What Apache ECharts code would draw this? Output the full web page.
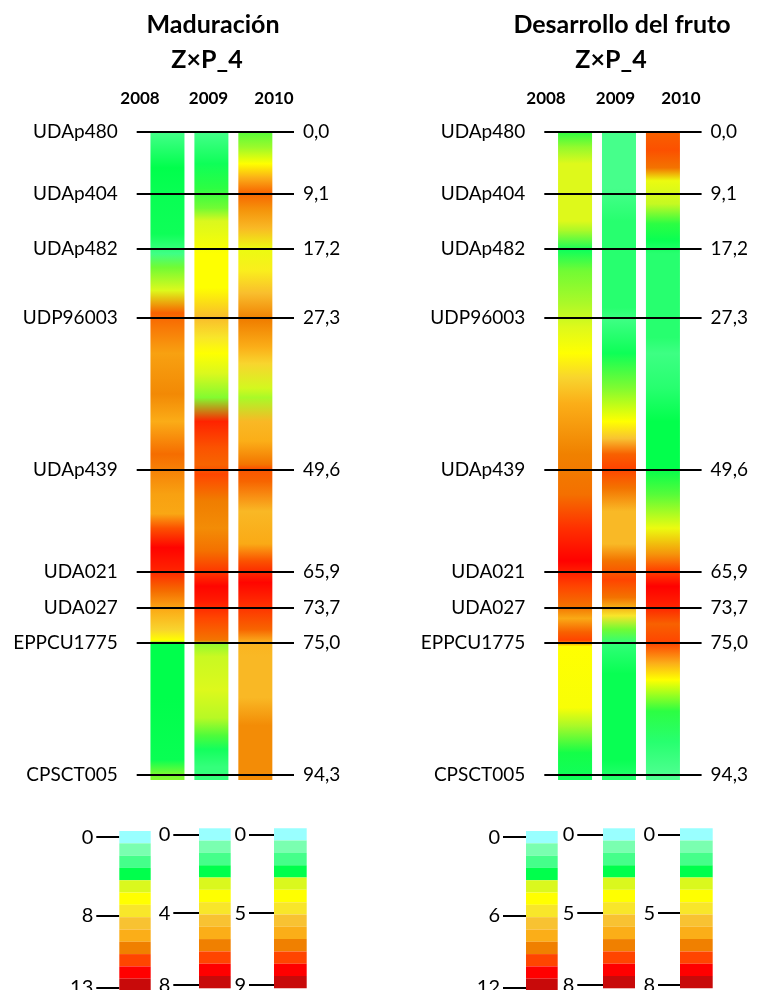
<!DOCTYPE html>
<html>
<head>
<meta charset="utf-8">
<script src="https://cdn.jsdelivr.net/npm/echarts@6/dist/echarts.min.js"></script>
<style>
  html, body { margin: 0; padding: 0; background: #fff; }
  #chart { width: 757px; height: 990px; }
</style>
</head>
<body>
<div id="chart"></div>
<script>
// ---- Data ------------------------------------------------------------------
const years = ['2008', '2009', '2010'];
const traitTitles = ['Maduración', 'Desarrollo del fruto'];
const linkageGroup = 'Z×P_4';

const markerNames = ['UDAp480', 'UDAp404', 'UDAp482', 'UDP96003', 'UDAp439',
                     'UDA021', 'UDA027', 'EPPCU1775', 'CPSCT005'];
const markerCM = [0.0, 9.1, 17.2, 27.3, 49.6, 65.9, 73.7, 75.0, 94.3];
const mapEnd = 95.1;

// LOD colour classes (light = low LOD, dark red = high LOD)
const palette = ['#99FFFF', '#7AFFB0', '#45FF8A', '#00FF4C', '#DAF81E', '#FFFF00', '#F8E62A',
                 '#F8C232', '#FBAE18', '#F08000', '#FF4500', '#FF0000', '#C80A0A'];

// Scale labels per year: [0, middle, max] LOD
const madScale = [[0, 8, 13], [0, 4, 8], [0, 5, 9]];
const desScale = [[0, 6, 12], [0, 5, 8], [0, 5, 8]];

// LOD profiles along the linkage group: [cM, LOD]
const madLOD2008 = [[0, 2.5], [5.3, 3.75], [9.1, 3.6], [15.0, 3.5], [17.9, 2.6], [19.9, 4.4], [23.3, 5.1],
  [26.6, 10.65], [32.5, 9.6], [38.5, 10.05], [42.5, 9.4], [47.3, 10.5], [53.5, 9.6], [56.6, 9.5],
  [58.9, 10.9], [62.0, 11.9], [65.6, 11.5], [70.1, 10.5], [73.8, 9.4], [74.5, 8.1], [74.9, 6.25],
  [75.2, 3.75], [83.0, 3.75], [92.1, 3.6], [94.1, 4.4], [95.1, 4.5]];
const madLOD2009 = [[0, 1.25], [4.7, 1.75], [8.3, 2.0], [11.2, 2.2], [13.1, 2.5], [17.9, 3.1], [22.9, 3.1],
  [27.2, 4.6], [30.2, 3.75], [32.5, 3.1], [35.5, 2.5], [39.0, 2.25], [42.5, 6.8], [46.4, 6.3],
  [48.8, 6.1], [50.3, 6.45], [54.6, 5.8], [58.9, 5.6], [62.5, 5.95], [66.2, 6.65], [69.0, 7.1],
  [72.1, 6.9], [74.1, 6.45], [74.9, 5.9], [75.2, 2.3], [77.0, 2.45], [81.9, 2.55], [86.0, 2.4],
  [88.6, 2.1], [90.6, 1.7], [93.2, 1.4], [95.1, 1.4]];
const madLOD2010 = [[0, 2.65], [2.3, 2.9], [4.7, 3.9], [6.8, 6.1], [9.0, 7.1], [11.6, 6.45], [14.1, 5.75],
  [17.2, 3.5], [20.4, 4.45], [23.7, 5.55], [27.6, 6.8], [31.6, 6.1], [34.0, 5.05], [37.6, 3.1],
  [39.0, 2.95], [42.5, 5.75], [45.4, 6.1], [48.8, 6.9], [49.4, 7.3], [51.4, 7.1], [56.2, 5.75],
  [61.4, 6.15], [64.1, 7.3], [68.2, 8.1], [73.5, 7.65], [74.5, 7.1], [75.0, 5.9], [77.0, 5.75],
  [83.0, 5.75], [87.1, 6.6], [95.1, 6.6]];

const desLOD2008 = [[0, 3.0], [2.3, 3.45], [4.7, 3.85], [13.1, 3.85], [14.5, 3.55], [17.4, 2.6], [20.4, 3.3],
  [25.2, 3.55], [28.7, 3.85], [32.5, 4.7], [36.1, 6.1], [39.9, 7.65], [47.3, 8.65], [53.5, 8.95],
  [58.9, 10.0], [64.1, 10.7], [69.0, 9.7], [73.5, 8.9], [74.1, 7.75], [74.6, 9.2], [74.9, 9.7],
  [75.5, 4.7], [84.5, 4.5], [87.1, 3.55], [91.1, 2.9], [94.7, 2.6], [95.1, 2.6]];
const desLOD2009 = [[0, 1.55], [8.3, 1.55], [13.1, 1.9], [25.8, 1.9], [27.6, 1.65], [32.5, 2.2], [37.6, 2.8],
  [42.5, 3.9], [45.0, 5.3], [47.3, 6.6], [49.4, 6.85], [52.5, 6.45], [56.2, 5.55], [61.4, 5.55],
  [64.1, 6.45], [67.6, 6.85], [71.5, 6.45], [74.0, 4.7], [74.5, 2.75], [75.0, 1.8], [79.5, 2.25],
  [92.1, 2.25], [94.7, 1.95], [95.1, 1.95]];
const desLOD2010 = [[0, 6.6], [2.7, 6.75], [5.3, 6.45], [7.2, 3.5], [10.6, 3.05], [13.5, 2.5], [16.0, 2.25],
  [17.9, 1.9], [30.2, 1.9], [32.5, 1.65], [37.6, 1.9], [42.5, 2.35], [49.4, 2.35], [53.5, 2.65],
  [58.9, 3.5], [63.0, 6.1], [65.6, 6.85], [69.0, 7.35], [73.5, 7.1], [74.3, 6.6], [75.0, 6.85],
  [78.0, 5.8], [80.4, 3.9], [85.0, 2.5], [89.5, 1.9], [94.7, 1.4], [95.1, 1.4]];

// ---- Map drawing scale ------------------------------------------------------
// Markers closer than MIN_GAP are pushed apart (from the bottom up) so that their
// labels never overlap; positions in between are mapped piecewise-linearly.
const MIN_GAP = 5.2;
const drawnPos = (function () {
  const out = markerCM.slice();
  for (let i = out.length - 2; i >= 0; i--) {
    out[i] = Math.min(out[i], out[i + 1] - MIN_GAP);
  }
  return out;
})();
function mapPos(cm) {
  const n = markerCM.length;
  if (cm <= markerCM[0]) return drawnPos[0] + (cm - markerCM[0]);
  for (let i = 1; i < n; i++) {
    if (cm <= markerCM[i]) {
      const t = (cm - markerCM[i - 1]) / (markerCM[i] - markerCM[i - 1]);
      return drawnPos[i - 1] + t * (drawnPos[i] - drawnPos[i - 1]);
    }
  }
  return drawnPos[n - 1] + (cm - markerCM[n - 1]);
}

// ---- Colour scale -----------------------------------------------------------
// Position (in colour-class units) of the 0 / middle / max labels of each scale.
const SCALE_TICK_POS = [0.5, 6.9, 12.75];
function hexToRgb(h) {
  return [parseInt(h.slice(1, 3), 16), parseInt(h.slice(3, 5), 16), parseInt(h.slice(5, 7), 16)];
}
const paletteRgb = palette.map(hexToRgb);
function lodToClassPos(lod, scale) {
  const [lo, mid, hi] = scale;
  if (lod <= mid) return SCALE_TICK_POS[0] + (SCALE_TICK_POS[1] - SCALE_TICK_POS[0]) * (lod - lo) / (mid - lo);
  return SCALE_TICK_POS[1] + (SCALE_TICK_POS[2] - SCALE_TICK_POS[1]) * (lod - mid) / (hi - mid);
}
function lodColor(lod, scale) {
  let t = lodToClassPos(lod, scale) - 0.5;
  t = Math.max(0, Math.min(palette.length - 1, t));
  const k = Math.min(palette.length - 2, Math.floor(t));
  const f = t - k;
  const a = paletteRgb[k], b = paletteRgb[k + 1];
  const c = a.map((v, j) => Math.round(v + (b[j] - v) * f));
  return 'rgb(' + c.join(',') + ')';
}
function fmtCM(v) { return v.toFixed(1).replace('.', ','); }

// ---- Layout -----------------------------------------------------------------
const FONT = 'Lato, "Open Sans", sans-serif';
const LABEL_SIZE = 19;
const MAP_TOP = 131.7, MAP_H = 648.3, MAP_W = 157.3;
const MAP_LEFT = [136.7, 544.3];
const X_MIN = -0.7, X_MAX = 2.88, BAR_HALF = 0.387;

const panels = [
  { title: traitTitles[0], profiles: [madLOD2008, madLOD2009, madLOD2010], scales: madScale,
    titleX: 213, subX: 207, yearX: [140, 208.5, 274] },
  { title: traitTitles[1], profiles: [desLOD2008, desLOD2009, desLOD2010], scales: desScale,
    titleX: 622, subX: 611, yearX: [546, 615.5, 681] }
];

// colour-scale boxes: left edge, top, width, tick length
const scaleBoxes = [
  { left: 119.3, top: 831, w: 31.4, tick: 23 },
  { left: 199, top: 828.3, w: 31.7, tick: 25.7 },
  { left: 274, top: 828.3, w: 32.7, tick: 25 },
  { left: 526, top: 831, w: 31.7, tick: 23 },
  { left: 603, top: 828.3, w: 32, tick: 25.7 },
  { left: 680, top: 828.3, w: 32.7, tick: 22 }
];
const SCALE_H = 160;

const grid = [], xAxis = [], yAxis = [], series = [], graphic = [];

panels.forEach((p, pi) => {
  grid.push({ left: MAP_LEFT[pi], top: MAP_TOP, width: MAP_W, height: MAP_H, outerBoundsMode: 'none' });
  xAxis.push({ type: 'value', gridIndex: pi, min: X_MIN, max: X_MAX, show: false });
  yAxis.push({ type: 'value', gridIndex: pi, min: 0, max: mapEnd, inverse: true, show: false });

  const lineData = markerCM.map((cm, i) => ({ yAxis: drawnPos[i], name: markerNames[i] }));
  // marker lines with marker names
  series.push({
    type: 'line', xAxisIndex: pi, yAxisIndex: pi, data: [], z: 1, silent: true, animation: false,
    markLine: {
      silent: true, animation: false, symbol: ['none', 'none'],
      lineStyle: { color: '#000', width: 2, type: 'solid' },
      label: { show: true, position: 'start', distance: 10, padding: [0, 9, 0, 0],
               formatter: d => d.name,
               color: '#000', fontSize: LABEL_SIZE, fontFamily: FONT },
      emphasis: { disabled: true },
      data: lineData
    }
  });
  // positions in cM, written at the right end of each marker line
  series.push({
    type: 'line', xAxisIndex: pi, yAxisIndex: pi, data: [], z: 1, silent: true, animation: false,
    markLine: {
      silent: true, animation: false, symbol: ['none', 'none'],
      lineStyle: { color: 'rgba(0,0,0,0)', width: 1 },
      label: { show: true, position: 'end', distance: 9,
               formatter: d => fmtCM(markerCM[d.dataIndex]),
               color: '#000', fontSize: LABEL_SIZE, fontFamily: FONT },
      emphasis: { disabled: true },
      data: lineData
    }
  });
  // LOD colour bars, one per year
  series.push({
    type: 'custom', xAxisIndex: pi, yAxisIndex: pi, z: 3, silent: true, animation: false,
    data: years.map((y, i) => [i]),
    renderItem: function (params, api) {
      const i = api.value(0);
      const prof = p.profiles[i];
      const tl = api.coord([i - BAR_HALF, 0]);
      const br = api.coord([i + BAR_HALF, mapEnd]);
      const h = br[1] - tl[1];
      const stops = prof.map(([cm, lod]) => ({
        offset: Math.max(0, Math.min(1, (api.coord([i, mapPos(cm)])[1] - tl[1]) / h)),
        color: lodColor(lod, p.scales[i])
      }));
      return {
        type: 'rect',
        shape: { x: tl[0], y: tl[1], width: br[0] - tl[0], height: h },
        style: { fill: new echarts.graphic.LinearGradient(0, 0, 0, 1, stops) }
      };
    }
  });

  graphic.push({ type: 'text', x: p.titleX, y: 25, style: { text: p.title, fill: '#000',
    font: 'bold 25px ' + FONT, textAlign: 'center', textVerticalAlign: 'middle' } });
  graphic.push({ type: 'text', x: p.subX, y: 60, style: { text: linkageGroup, fill: '#000',
    font: 'bold 25px ' + FONT, textAlign: 'center', textVerticalAlign: 'middle' } });
  years.forEach((y, i) => {
    graphic.push({ type: 'text', x: p.yearX[i], y: 99, style: { text: y, fill: '#000',
      font: 'bold 17px ' + FONT, textAlign: 'center', textVerticalAlign: 'middle' } });
  });
});

// colour scales
scaleBoxes.forEach((b, k) => {
  const gi = 2 + k;
  const scale = (k < 3 ? madScale : desScale)[k % 3];
  grid.push({ left: b.left, top: b.top, width: b.w, height: SCALE_H, outerBoundsMode: 'none' });
  xAxis.push({ type: 'value', gridIndex: gi, min: 0, max: 1, show: false });
  yAxis.push({
    type: 'value', gridIndex: gi, min: 0, max: palette.length, inverse: true,
    axisLine: { show: false }, splitLine: { show: false },
    axisTick: { show: true, customValues: SCALE_TICK_POS, length: b.tick, inside: false,
                lineStyle: { color: '#000', width: 2 } },
    axisLabel: { show: true, customValues: SCALE_TICK_POS, margin: b.tick + 3,
                 color: '#000', fontSize: 20, fontFamily: FONT,
                 formatter: v => {
                   let best = 0;
                   SCALE_TICK_POS.forEach((t, j) => { if (Math.abs(t - v) < Math.abs(SCALE_TICK_POS[best] - v)) best = j; });
                   return String(scale[best]);
                 } }
  });
  series.push({
    type: 'custom', xAxisIndex: gi, yAxisIndex: gi, silent: true, animation: false, z: 3,
    data: palette.map((c, i) => [i]),
    renderItem: function (params, api) {
      const i = api.value(0);
      const tl = api.coord([0, i]);
      const br = api.coord([1, i + 1]);
      return { type: 'rect', shape: { x: tl[0], y: tl[1], width: br[0] - tl[0], height: br[1] - tl[1] },
               style: { fill: palette[i] } };
    }
  });
});

const chart = echarts.init(document.getElementById('chart'), null, { renderer: 'canvas' });
chart.setOption({
  backgroundColor: '#fff',
  animation: false,
  grid, xAxis, yAxis, series, graphic
});
</script>
</body>
</html>
